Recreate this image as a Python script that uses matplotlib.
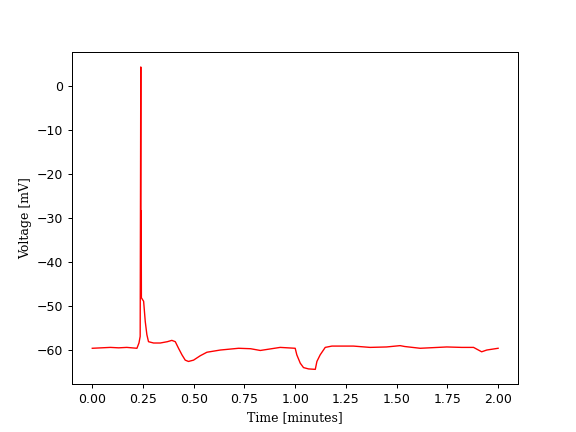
import numpy as np
import matplotlib
matplotlib.use('Agg')
import matplotlib.pyplot as plt

# membrane voltage trace (time in minutes, mV)
t_min = [0.000, 0.045, 0.089, 0.130, 0.170, 0.220, 0.230, 0.236, 0.2390,
         0.2395, 0.2405, 0.2410, 0.2420, 0.253, 0.261, 0.269, 0.277,
         0.302, 0.335, 0.370, 0.392, 0.409, 0.425, 0.442, 0.458, 0.474,
         0.499, 0.532, 0.565, 0.631, 0.721, 0.780, 0.828, 0.926, 1.000,
         1.008, 1.025, 1.041, 1.066, 1.099, 1.107, 1.123, 1.148, 1.181,
         1.287, 1.369, 1.450, 1.517, 1.540, 1.616, 1.747, 1.820, 1.879,
         1.919, 1.944, 2.000]
v_mv = [-59.7, -59.6, -59.5, -59.6, -59.5, -59.7, -58.5, -57.0, 4.35,
        -48.0, -47.5, -28.4, -48.2, -49.0, -53.6, -56.6, -58.2,
        -58.5, -58.5, -58.2, -57.9, -58.2, -59.7, -61.2, -62.4, -62.7,
        -62.4, -61.4, -60.6, -60.1, -59.7, -59.8, -60.2, -59.5, -59.7,
        -61.2, -63.1, -64.1, -64.4, -64.5, -62.7, -61.2, -59.5, -59.2,
        -59.2, -59.5, -59.4, -59.1, -59.3, -59.7, -59.4, -59.5, -59.5,
        -60.5, -60.1, -59.7]

fig, ax = plt.subplots(figsize=(6.4, 4.8), dpi=90)
ax.plot(t_min, v_mv, color='red', linewidth=1.1)

ax.set_xlabel('Time [minutes]', family='DejaVu Serif')
ax.set_ylabel('Voltage [mV]', family='DejaVu Serif')

plt.savefig('out.png', dpi=90)
plt.close()
